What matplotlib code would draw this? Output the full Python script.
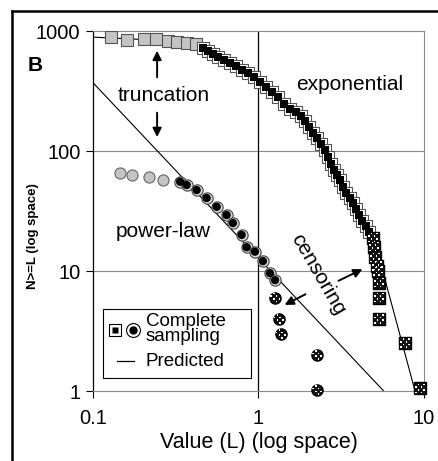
import matplotlib
matplotlib.use("Agg")
import matplotlib.pyplot as plt
from matplotlib.patches import Rectangle
from matplotlib.lines import Line2D
from matplotlib.path import Path

plt.rcParams['font.family'] = ['Liberation Sans', 'DejaVu Sans']

# ---- exponential data (squares) ----
exp_trunc_x = [0.128, 0.16, 0.203, 0.240, 0.284, 0.322, 0.368, 0.419]
exp_trunc_y = [896, 841, 858, 858, 825, 815, 790, 775]

exp_full_x = [0.462, 0.495, 0.531, 0.569, 0.619, 0.673, 0.731, 0.795, 0.864, 0.939,
              1.021, 1.110, 1.207, 1.311, 1.426, 1.550, 1.685, 1.806, 1.910, 2.019,
              2.135, 2.257, 2.386, 2.522, 2.630, 2.742, 2.859, 2.981, 3.108, 3.240,
              3.378, 3.572, 3.724, 3.883, 4.049, 4.222, 4.462, 4.653]
exp_full_y = [722, 681, 643, 607, 573, 541, 511, 473, 447, 414,
              376, 342, 310, 282, 246, 224, 211, 196, 178, 158,
              141, 128, 114, 102, 89.1, 77.9, 69.4, 63.1, 57.3, 50.1,
              44.7, 40.6, 36.9, 32.9, 29.3, 26.1, 23.7, 21.1]

exp_cens_x = [4.92, 4.99, 5.06, 5.20, 5.27, 5.35, 5.35, 5.35, 7.68, 9.46]
exp_cens_y = [19, 16, 13, 11, 10, 8, 6, 4, 2.5, 1.05]

exp_pred_x = [0.1, 0.2, 0.3, 0.44, 0.6, 1.0, 1.5, 2.0, 2.5, 3.0, 3.5, 4.0, 4.5, 4.92, 8.83]
exp_pred_y = [890, 850, 800, 740, 620, 380, 235, 152, 104, 72, 50, 36, 26, 20, 1]

# ---- power-law data (circles) ----
pow_trunc_x = [0.146, 0.171, 0.218, 0.265]
pow_trunc_y = [65.9, 63, 61, 57.3]

pow_full_x = [0.336, 0.368, 0.423, 0.486, 0.559, 0.642, 0.701, 0.791, 0.849, 0.952,
              1.064, 1.173, 1.259]
pow_full_y = [55.5, 52.1, 47.3, 40.6, 34.3, 29.3, 25.1, 20.0, 15.8, 14.5,
              12.1, 9.6, 8.4]

pow_cens_x = [1.264, 1.325, 1.362, 2.265, 2.265]
pow_cens_y = [6, 4, 3, 2, 1.02]

pow_pred_x = [0.1, 5.71]
pow_pred_y = [371, 1]


def dot_marker(round_shape):
    # small white dots in a checker layout, used on top of dark markers
    verts, codes = [], []
    cells = [-0.375, -0.125, 0.125, 0.375]
    h = 0.075
    for i, cx in enumerate(cells):
        for j, cy in enumerate(cells):
            if (i + j) % 2:
                continue
            if round_shape and cx * cx + cy * cy > 0.17:
                continue
            verts += [(cx - h, cy - h), (cx + h, cy - h), (cx + h, cy + h),
                      (cx - h, cy + h), (cx - h, cy - h)]
            codes += [Path.MOVETO, Path.LINETO, Path.LINETO, Path.LINETO, Path.CLOSEPOLY]
    # invisible corner points keep the pattern scaled to the full marker box
    verts += [(-0.5, -0.5), (0.5, 0.5)]
    codes += [Path.MOVETO, Path.MOVETO]
    return Path(verts, codes)


fig = plt.figure(figsize=(4.38, 4.61), dpi=100)
ax = fig.add_axes([0.2123, 0.1518, 0.7557, 0.7809])

ax.set_xscale('log')
ax.set_yscale('log')
ax.set_xlim(0.1, 10)
ax.set_ylim(1, 1000)

# grid
for yv in [10, 100]:
    ax.axhline(yv, color='#8a8a8a', lw=0.8, zorder=0)
ax.axvline(1, color='black', lw=0.9, zorder=0)

# predicted lines
ax.plot(exp_pred_x, exp_pred_y, color='black', lw=0.8, zorder=1)
ax.plot(pow_pred_x, pow_pred_y, color='black', lw=0.8, zorder=1)

# truncated (grey) points
ax.scatter(exp_trunc_x, exp_trunc_y, marker='s', s=66, facecolor='#c4c4c4',
           edgecolor='#555555', linewidth=0.8, zorder=3)
ax.scatter(pow_trunc_x, pow_trunc_y, marker='o', s=64, facecolor='#c4c4c4',
           edgecolor='#666666', linewidth=0.8, zorder=3)

# complete sampling points
ax.scatter(exp_full_x, exp_full_y, marker='s', s=66, facecolor='white',
           edgecolor='#555555', linewidth=0.8, zorder=3)
ax.scatter(exp_full_x, exp_full_y, marker='s', s=34, facecolor='black',
           edgecolor='none', zorder=4)
ax.scatter(pow_full_x, pow_full_y, marker='o', s=66, facecolor='#d8d8d8',
           edgecolor='#444444', linewidth=0.8, zorder=3)
ax.scatter(pow_full_x, pow_full_y, marker='o', s=36, facecolor='black',
           edgecolor='none', zorder=4)

# censored points (checkered)
for cx, cy, mk, rnd in [(exp_cens_x, exp_cens_y, 's', False),
                        (pow_cens_x, pow_cens_y, 'o', True)]:
    ax.scatter(cx, cy, marker=mk, s=64, facecolor='#151515', edgecolor='black',
               linewidth=1.0, zorder=5, clip_on=False)
    ax.scatter(cx, cy, marker=dot_marker(rnd), s=60, facecolor='white',
               edgecolor='none', zorder=6, clip_on=False)

# spines / ticks
for side in ['top', 'right', 'bottom']:
    ax.spines[side].set_color('#8a8a8a')
    ax.spines[side].set_linewidth(0.8)
ax.spines['left'].set_color('black')
ax.spines['left'].set_linewidth(0.9)

ax.set_xticks([0.1, 1, 10])
ax.set_xticklabels(['0.1', '1', '10'])
ax.set_yticks([1, 10, 100, 1000])
ax.set_yticklabels(['1', '10', '100', '1000'])
ax.minorticks_off()
ax.tick_params(axis='y', length=5, width=0.8, pad=4, labelsize=14.5)
ax.tick_params(axis='x', length=5, width=0.8, pad=8, labelsize=14.5, color='black')

ax.set_xlabel('Value (L) (log space)', fontsize=15.5, labelpad=3)
ax.set_ylabel('N>=L (log space)', fontsize=9.5, fontweight='bold')
ax.yaxis.set_label_coords(-0.163, 0.43)

# annotations
fig.text(0.08, 0.857, 'B', fontsize=15, fontweight='bold', ha='center', va='center')
ax.text(0.268, 293, 'truncation', fontsize=15, ha='center', va='center')
ax.annotate('', xy=(0.244, 722), xytext=(0.244, 390),
            arrowprops=dict(arrowstyle='-|>', color='black', lw=1.4, mutation_scale=13))
ax.annotate('', xy=(0.244, 124), xytext=(0.244, 220),
            arrowprops=dict(arrowstyle='-|>', color='black', lw=1.4, mutation_scale=13))
ax.text(3.57, 361, 'exponential', fontsize=15, ha='center', va='center')
ax.text(0.265, 21.5, 'power-law', fontsize=15, ha='center', va='center')
ax.text(2.3, 9.3, 'censoring', fontsize=15, ha='center', va='center', rotation=-60)
ax.annotate('', xy=(4.40, 10.6), xytext=(2.94, 8.1),
            arrowprops=dict(arrowstyle='-|>', color='black', lw=1.4, mutation_scale=13))
ax.annotate('', xy=(1.39, 5.1), xytext=(1.99, 6.56),
            arrowprops=dict(arrowstyle='-|>', color='black', lw=1.4, mutation_scale=13))

# legend (drawn by hand)
ax.add_patch(Rectangle((0.030, 0.036), 0.447, 0.192, transform=ax.transAxes,
                       facecolor='white', edgecolor='black', lw=0.8, zorder=7))
ax.plot([0.066], [0.169], marker='s', ms=9, mfc='white', mec='black', mew=0.8,
        transform=ax.transAxes, zorder=8)
ax.plot([0.066], [0.169], marker='s', ms=5, mfc='black', mec='none',
        transform=ax.transAxes, zorder=9)
ax.plot([0.121], [0.169], marker='o', ms=10, mfc='white', mec='black', mew=0.8,
        transform=ax.transAxes, zorder=8)
ax.plot([0.121], [0.169], marker='o', ms=6, mfc='black', mec='none',
        transform=ax.transAxes, zorder=9)
ax.text(0.160, 0.172, 'Complete\nsampling', transform=ax.transAxes, fontsize=13.5,
        va='center', ha='left', linespacing=0.82, zorder=9)
ax.add_line(Line2D([0.073, 0.124], [0.083, 0.083], color='black', lw=0.9,
                   transform=ax.transAxes, zorder=9))
ax.text(0.160, 0.083, 'Predicted', transform=ax.transAxes, fontsize=13.5,
        va='center', ha='left', zorder=9)

# outer frame (left and top edges)
fig.add_artist(Line2D([0.028, 0.028], [0.0, 0.976], color='black', lw=1.8,
                      transform=fig.transFigure))
fig.add_artist(Line2D([0.028, 1.0], [0.976, 0.976], color='black', lw=1.8,
                      transform=fig.transFigure))

fig.savefig('out.png', dpi=100)
